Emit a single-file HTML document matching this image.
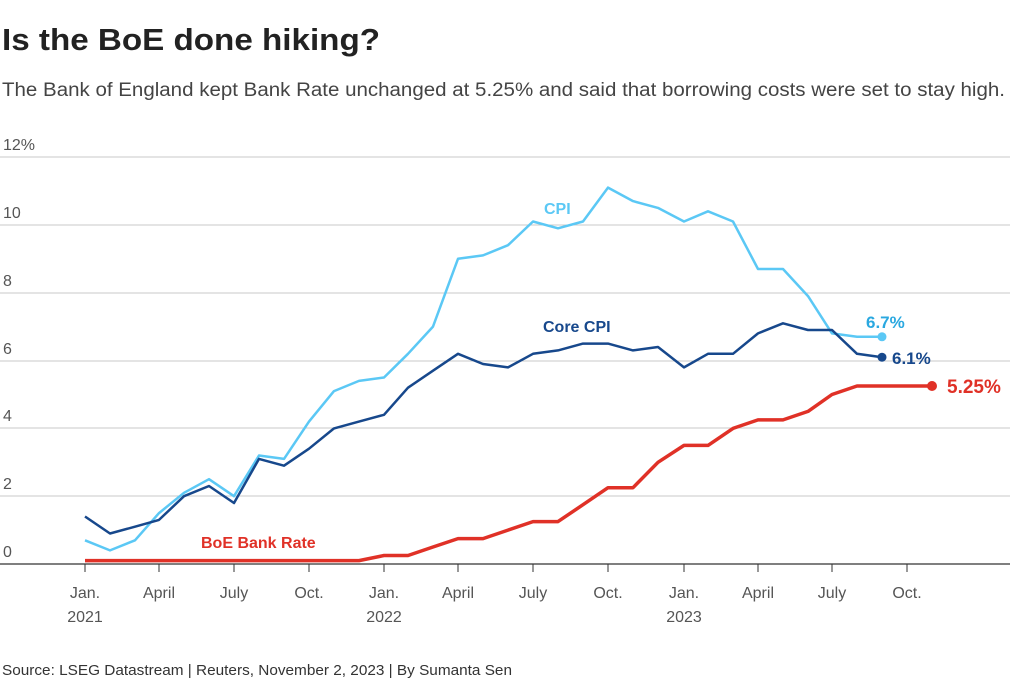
<!DOCTYPE html>
<html><head><meta charset="utf-8"><style>
body{margin:0;background:#fff;width:1024px;height:685px;overflow:hidden;font-family:"Liberation Sans",sans-serif;}
</style></head><body>
<svg width="1024" height="685" xmlns="http://www.w3.org/2000/svg" font-family="Liberation Sans, sans-serif">
<text x="2" y="50" font-size="31" font-weight="bold" fill="#222" textLength="378" lengthAdjust="spacingAndGlyphs">Is the BoE done hiking?</text>
<text x="2" y="96" font-size="19" fill="#444" textLength="1003" lengthAdjust="spacingAndGlyphs">The Bank of England kept Bank Rate unchanged at 5.25% and said that borrowing costs were set to stay high.</text>
<g stroke="#c8c8c8" stroke-width="1">
<line x1="0" x2="1010" y1="157" y2="157"/><line x1="0" x2="1010" y1="225" y2="225"/>
<line x1="0" x2="1010" y1="293" y2="293"/><line x1="0" x2="1010" y1="361" y2="361"/>
<line x1="0" x2="1010" y1="428" y2="428"/><line x1="0" x2="1010" y1="496" y2="496"/>
</g>
<line x1="0" x2="1010" y1="564" y2="564" stroke="#333" stroke-width="1.2"/>
<g font-size="16" fill="#555">
<text x="3" y="150">12%</text><text x="3" y="218">10</text><text x="3" y="286">8</text>
<text x="3" y="354">6</text><text x="3" y="421">4</text><text x="3" y="489">2</text><text x="3" y="557">0</text>
</g>
<g stroke="#333" stroke-width="1">
<line x1="85" x2="85" y1="564" y2="572"/><line x1="159" x2="159" y1="564" y2="572"/><line x1="234" x2="234" y1="564" y2="572"/><line x1="309" x2="309" y1="564" y2="572"/><line x1="384" x2="384" y1="564" y2="572"/><line x1="458" x2="458" y1="564" y2="572"/><line x1="533" x2="533" y1="564" y2="572"/><line x1="608" x2="608" y1="564" y2="572"/><line x1="684" x2="684" y1="564" y2="572"/><line x1="758" x2="758" y1="564" y2="572"/><line x1="832" x2="832" y1="564" y2="572"/><line x1="907" x2="907" y1="564" y2="572"/>
</g>
<g font-size="16" fill="#555" text-anchor="middle">
<text x="85" y="598">Jan.</text><text x="85" y="622">2021</text>
<text x="159" y="598">April</text><text x="234" y="598">July</text><text x="309" y="598">Oct.</text>
<text x="384" y="598">Jan.</text><text x="384" y="622">2022</text>
<text x="458" y="598">April</text><text x="533" y="598">July</text><text x="608" y="598">Oct.</text>
<text x="684" y="598">Jan.</text><text x="684" y="622">2023</text>
<text x="758" y="598">April</text><text x="832" y="598">July</text><text x="907" y="598">Oct.</text>
</g>
<polyline fill="none" stroke="#5bc8f5" stroke-width="2.5" stroke-linejoin="round" points="85,540.3 110,550.4 135,540.3 159,513.1 184,492.8 209,479.2 234,496.2 259,455.5 284,458.9 309,421.6 334,391.1 359,380.9 384,377.5 408,353.8 433,326.6 458,258.8 483,255.4 508,245.2 533,221.5 558,228.3 583,221.5 608,187.6 633,201.1 658,207.9 684,221.5 708,211.3 733,221.5 758,269 783,269 808,296.1 832,333.4 857,336.8 882,336.8"/>
<circle cx="882" cy="336.8" r="4.5" fill="#5bc8f5"/>
<polyline fill="none" stroke="#17488c" stroke-width="2.5" stroke-linejoin="round" points="85,516.5 110,533.5 135,526.7 159,519.9 184,496.2 209,486 234,503 259,458.9 284,465.7 309,448.7 334,428.4 359,421.6 384,414.8 408,387.7 433,370.7 458,353.8 483,364 508,367.4 533,353.8 558,350.4 583,343.6 608,343.6 633,350.4 658,347 684,367.4 708,353.8 733,353.8 758,333.4 783,323.3 808,330 832,330 857,353.8 882,357.2"/>
<circle cx="882" cy="357.2" r="4.5" fill="#17488c"/>
<polyline fill="none" stroke="#e03127" stroke-width="3.5" stroke-linejoin="round" points="85,560.6 110,560.6 135,560.6 159,560.6 184,560.6 209,560.6 234,560.6 259,560.6 284,560.6 309,560.6 334,560.6 359,560.6 384,555.5 408,555.5 433,547 458,538.6 483,538.6 508,530.1 533,521.6 558,521.6 583,504.7 608,487.7 633,487.7 658,462.3 684,445.4 708,445.4 733,428.4 758,419.9 783,419.9 808,411.4 832,394.5 857,386 882,386 907,386 932,386"/>
<circle cx="932" cy="386" r="5" fill="#e03127"/>
<text x="544" y="214" font-size="16" font-weight="bold" fill="#5bc8f5">CPI</text>
<text x="543" y="332" font-size="16" font-weight="bold" fill="#17488c">Core CPI</text>
<text x="201" y="548" font-size="16" font-weight="bold" fill="#e03127">BoE Bank Rate</text>
<text x="866" y="328" font-size="17" font-weight="bold" fill="#2aa8e0">6.7%</text>
<text x="892" y="364" font-size="17" font-weight="bold" fill="#17488c">6.1%</text>
<text x="947" y="393" font-size="19" font-weight="bold" fill="#e03127">5.25%</text>
<text x="2" y="675" font-size="15" fill="#333" textLength="510" lengthAdjust="spacingAndGlyphs">Source: LSEG Datastream | Reuters, November 2, 2023 | By Sumanta Sen</text>
</svg>
</body></html>
